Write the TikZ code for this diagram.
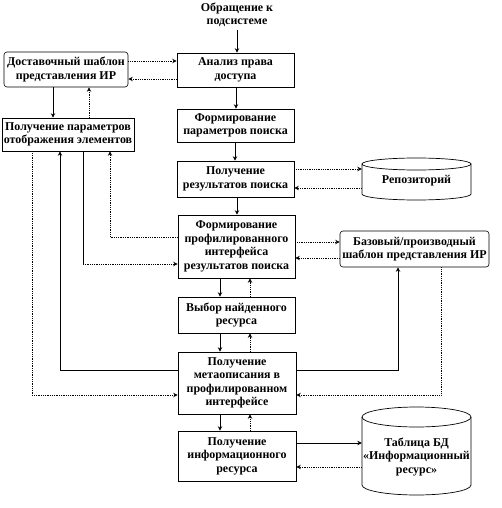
\documentclass[tikz,border=0pt]{standalone}
\usepackage{fontspec}
\setmainfont{Liberation Serif}
\usetikzlibrary{arrows.meta,calc}
\begin{document}
\begin{tikzpicture}[x=1bp,y=-1bp,
  txt/.style={font=\fontsize{12}{13.5}\selectfont\bfseries, align=center, inner sep=0pt},
  box/.style={txt, draw, line width=0.6pt, rectangle},
  rbox/.style={box, rounded corners=3bp},
  ln/.style={line width=0.7pt},
  dot/.style={line width=0.8pt, densely dotted},
  arr/.style={-{Stealth[length=4.5bp,width=4.5bp]}}]
\useasboundingbox (0,0) rectangle (502,508);
% nodes
\node[txt] (title) at (237,15) {Обращение к\\подсистеме};
\node[box, minimum width=117bp, minimum height=34bp] (A) at (235.5,70) {Анализ права\\доступа};
\node[rbox, minimum width=124bp, minimum height=35bp] (L1) at (66,69.5) {Доставочный шаблон\\представления ИР};
\node[box, minimum width=132bp, minimum height=33bp] (L2) at (68,134.5) {Получение параметров\\отображения элементов};
\node[box, minimum width=117bp, minimum height=33bp] (B) at (235.5,125.5) {Формирование\\параметров поиска};
\node[box, minimum width=117bp, minimum height=36bp] (C) at (235.5,179) {Получение\\результатов поиска};
\node[box, minimum width=117bp, minimum height=63bp] (D) at (236.5,246.5) {Формирование\\профилированного\\интерфейса\\результатов поиска};
\node[rbox, minimum width=149bp, minimum height=36bp] (E) at (414.5,249) {Базовый/производный\\шаблон представления ИР};
\node[box, minimum width=117bp, minimum height=36bp] (F) at (236.5,315) {Выбор найденного\\ресурса};
\node[box, minimum width=118bp, minimum height=62bp] (G) at (237,383) {Получение\\метаописания в\\профилированном\\интерфейсе};
\node[box, minimum width=118bp, minimum height=50bp] (H) at (237,456) {Получение\\информационного\\ресурса};
\node[txt, minimum width=109bp, minimum height=42bp] (rep) at (416.5,181) {Репозиторий};
\node[txt, minimum width=109bp, minimum height=88bp] (db) at (416.5,457) {Таблица БД\\«Информационный\\ресурс»};
% cylinders
\draw[ln] (362,164) -- (362,194) arc[start angle=180,end angle=360,x radius=54.5bp,y radius=6bp] -- (471,164);
\draw[ln] (416.5,164) ellipse [x radius=54.5bp, y radius=6bp];
\draw[ln] (362,417) -- (362,485) arc[start angle=180,end angle=360,x radius=54.5bp,y radius=10bp] -- (471,417);
\draw[ln] (416.5,417) ellipse [x radius=54.5bp, y radius=10bp];
% main chain
\draw[ln,arr] (title.south -| 237,0) ++(0,3) -- (A.north -| 237,0);
\draw[ln,arr] (A.south -| 236,0) -- (B.north -| 236,0);
\draw[ln,arr] (B.south -| 235,0) -- (C.north -| 235,0);
\draw[ln,arr] (C.south -| 237,0) -- (D.north -| 237,0);
\draw[ln,arr] (D.south -| 220,0) -- (F.north -| 220,0);
\draw[dot,arr] (F.north -| 250,0) -- (D.south -| 250,0);
\draw[ln,arr] (F.south -| 220,0) -- (G.north -| 220,0);
\draw[dot,arr] (G.north -| 250,0) -- (F.south -| 250,0);
\draw[ln,arr] (G.south -| 220,0) -- (H.north -| 220,0);
\draw[dot,arr] (H.north -| 250,0) -- (G.south -| 250,0);
% left top
\draw[dot,arr] (L1.east |- 0,61) -- (A.west |- 0,61);
\draw[dot,arr] (A.west |- 0,79) -- (L1.east |- 0,79);
\draw[ln,arr] (L1.south -| 53,0) -- (L2.north -| 53,0);
\draw[dot,arr] (L2.north -| 89,0) -- (L1.south -| 89,0);
% repository
\draw[dot,arr] (C.east |- 0,169) -- (rep.west |- 0,169);
\draw[dot,arr] (rep.west |- 0,188) -- (C.east |- 0,188);
% base template
\draw[dot,arr] (D.east |- 0,242) -- (E.west |- 0,242);
\draw[dot,arr] (E.west |- 0,258) -- (D.east |- 0,258);
% db
\draw[ln,arr] (H.east |- 0,443) -- (db.west |- 0,443);
\draw[dot,arr] (db.west |- 0,467) -- (H.east |- 0,467);
% left loops
\draw[dot,arr] (L2.south -| 32,0) |- (G.west |- 0,395);
\draw[ln,arr] (G.west |- 0,370) -| (L2.south -| 60,0);
\coordinate (k1) at (83,264);
\draw[ln] (L2.south -| k1) -- (k1);
\draw[dot,arr] (k1) -- (D.west |- k1);
\draw[dot,arr] (D.west |- 0,237) -| (L2.south -| 110,0);
% right loops
\draw[ln,arr] (G.east |- 0,370) -| (E.south -| 398,0);
\draw[dot,arr] (E.south -| 441,0) |- (G.east |- 0,395);
\end{tikzpicture}
\end{document}
